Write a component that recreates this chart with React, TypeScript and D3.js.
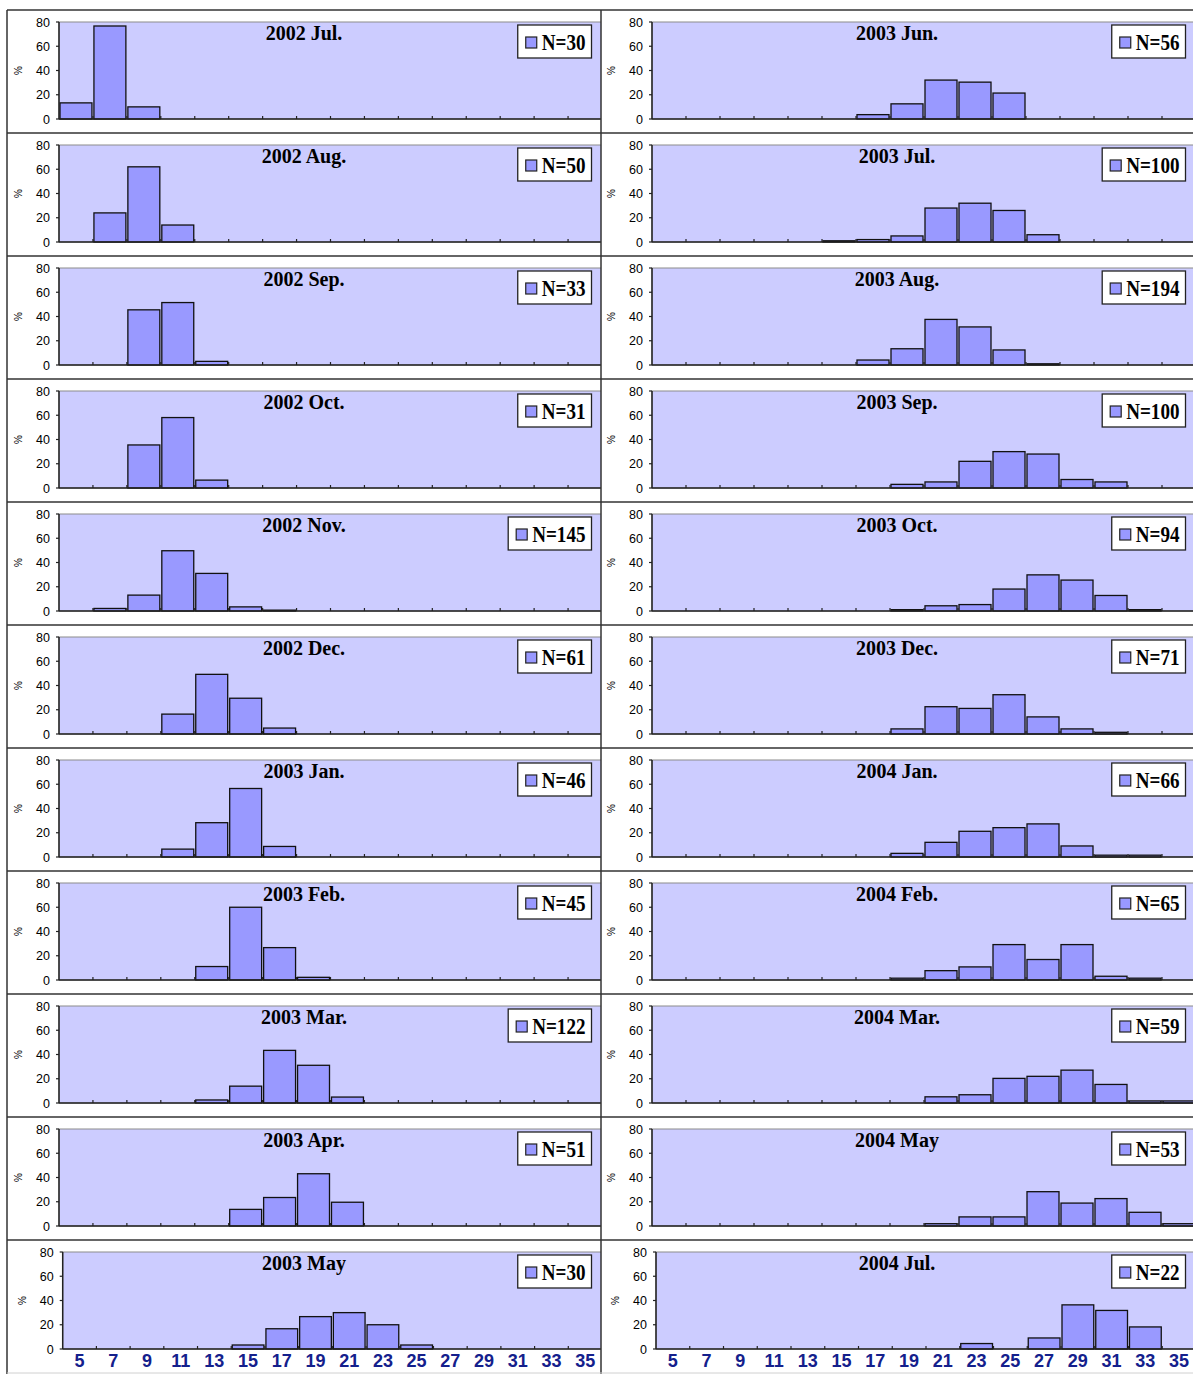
import React, { useEffect, useRef } from 'react';
import * as d3 from 'd3';

const bins = [5, 7, 9, 11, 13, 15, 17, 19, 21, 23, 25, 27, 29, 31, 33, 35];
const yTicks = [0, 20, 40, 60, 80];

const leftTitles = ['2002 Jul.', '2002 Aug.', '2002 Sep.', '2002 Oct.', '2002 Nov.', '2002 Dec.', '2003 Jan.', '2003 Feb.', '2003 Mar.', '2003 Apr.', '2003 May'];
const leftN = [30, 50, 33, 31, 145, 61, 46, 45, 122, 51, 30];
const rightTitles = ['2003 Jun.', '2003 Jul.', '2003 Aug.', '2003 Sep.', '2003 Oct.', '2003 Dec.', '2004 Jan.', '2004 Feb.', '2004 Mar.', '2004 May', '2004 Jul.'];
const rightN = [56, 100, 194, 100, 94, 71, 66, 65, 59, 53, 22];

// percentage per size class (bins 5..35)
const jul2002 = [13.3, 76.7, 10, 0, 0, 0, 0, 0, 0, 0, 0, 0, 0, 0, 0, 0];
const aug2002 = [0, 24, 62, 14, 0, 0, 0, 0, 0, 0, 0, 0, 0, 0, 0, 0];
const sep2002 = [0, 0, 45.5, 51.5, 3, 0, 0, 0, 0, 0, 0, 0, 0, 0, 0, 0];
const oct2002 = [0, 0, 35.5, 58.1, 6.5, 0, 0, 0, 0, 0, 0, 0, 0, 0, 0, 0];
const nov2002 = [0, 2.1, 13.1, 49.7, 31.0, 3.4, 0.7, 0, 0, 0, 0, 0, 0, 0, 0, 0];
const dec2002 = [0, 0, 0, 16.4, 49.2, 29.5, 4.9, 0, 0, 0, 0, 0, 0, 0, 0, 0];
const jan2003 = [0, 0, 0, 6.5, 28.3, 56.5, 8.7, 0, 0, 0, 0, 0, 0, 0, 0, 0];
const feb2003 = [0, 0, 0, 0, 11.1, 60, 26.7, 2.2, 0, 0, 0, 0, 0, 0, 0, 0];
const mar2003 = [0, 0, 0, 0, 2.5, 13.9, 43.4, 31.1, 4.9, 0, 0, 0, 0, 0, 0, 0];
const apr2003 = [0, 0, 0, 0, 0, 13.7, 23.5, 43.1, 19.6, 0, 0, 0, 0, 0, 0, 0];
const may2003 = [0, 0, 0, 0, 0, 3.3, 16.7, 26.7, 30, 20, 3.3, 0, 0, 0, 0, 0];

const jun2003 = [0, 0, 0, 0, 0, 0, 3.6, 12.5, 32.1, 30.4, 21.4, 0, 0, 0, 0, 0];
const jul2003 = [0, 0, 0, 0, 0, 1, 2, 5, 28, 32, 26, 6, 0, 0, 0, 0];
const aug2003 = [0, 0, 0, 0, 0, 0, 4.1, 13.4, 37.6, 31.4, 12.4, 1, 0, 0, 0, 0];
const sep2003 = [0, 0, 0, 0, 0, 0, 0, 3, 5, 22, 30, 28, 7, 5, 0, 0];
const oct2003 = [0, 0, 0, 0, 0, 0, 0, 1.1, 4.3, 5.3, 18.1, 29.8, 25.5, 12.8, 1.1, 0];
const dec2003 = [0, 0, 0, 0, 0, 0, 0, 4.2, 22.5, 21.1, 32.4, 14.1, 4.2, 1.4, 0, 0];
const jan2004 = [0, 0, 0, 0, 0, 0, 0, 3, 12.1, 21.2, 24.2, 27.3, 9.1, 1.5, 1.5, 0];
const feb2004 = [0, 0, 0, 0, 0, 0, 0, 1.5, 7.7, 10.8, 29.2, 16.9, 29.2, 3.1, 1.5, 0];
const mar2004 = [0, 0, 0, 0, 0, 0, 0, 0, 5.1, 6.8, 20.3, 22, 27.1, 15.3, 1.7, 1.7];
const may2004 = [0, 0, 0, 0, 0, 0, 0, 0, 1.9, 7.5, 7.5, 28.3, 18.9, 22.6, 11.3, 1.9];
const jul2004 = [0, 0, 0, 0, 0, 0, 0, 0, 0, 4.5, 0, 9.1, 36.4, 31.8, 18.2, 0];

const leftData = [jul2002, aug2002, sep2002, oct2002, nov2002, dec2002, jan2003, feb2003, mar2003, apr2003, may2003];
const rightData = [jun2003, jul2003, aug2003, sep2003, oct2003, dec2003, jan2004, feb2004, mar2004, may2004, jul2004];

export default function App() {
  const ref = useRef<SVGSVGElement>(null);

  useEffect(() => {
    const svg = d3.select(ref.current);
    svg.selectAll('*').remove();
    const W = 1193;
    const H = 1374;
    const pitch = 123;
    const top0 = 10;
    const nRows = 11;

    svg.append('rect').attr('width', W).attr('height', H).attr('fill', '#fff');

    const cols = [
      { x0: 7, x1: 601, plotLeft: 59, plotLeftLast: 62.7, plotRight: 602, titles: leftTitles, ns: leftN, data: leftData },
      { x0: 601, x1: 1193, plotLeft: 652, plotLeftLast: 656, plotRight: 1196, titles: rightTitles, ns: rightN, data: rightData },
    ];

    const defs = svg.append('defs');

    cols.forEach((col, ci) => {
      col.data.forEach((vals, ri) => {
        const last = ri === nRows - 1;
        const pTop = top0 + pitch * ri;
        const pBottom = last ? H : pTop + pitch;
        const plotTop = pTop + 12;
        const plotBottom = pTop + 109;
        const plotLeft = last ? col.plotLeftLast : col.plotLeft;
        const plotRight = col.plotRight;

        const clipId = `clip-${ci}-${ri}`;
        defs.append('clipPath').attr('id', clipId)
          .append('rect').attr('x', col.x0).attr('y', pTop).attr('width', col.x1 - col.x0).attr('height', pBottom - pTop);

        const g = svg.append('g').attr('clip-path', `url(#${clipId})`);

        const x = d3.scaleBand<number>().domain(bins).range([plotLeft, plotRight]).paddingInner(0).paddingOuter(0);
        const y = d3.scaleLinear().domain([0, 80]).range([plotBottom, plotTop]);
        const bw = x.bandwidth();

        g.append('rect')
          .attr('x', plotLeft).attr('y', plotTop)
          .attr('width', plotRight - plotLeft).attr('height', plotBottom - plotTop)
          .attr('fill', '#CCCCFF').attr('stroke', '#8c8c8c').attr('stroke-width', 1);

        // bars
        g.selectAll('rect.bar')
          .data(bins.map((b, i) => ({ b, v: vals[i] })).filter(d => d.v > 0))
          .enter().append('rect')
          .attr('class', 'bar')
          .attr('x', d => (x(d.b) as number) + 1)
          .attr('width', bw - 2)
          .attr('y', d => y(d.v))
          .attr('height', d => Math.max(0.8, plotBottom - y(d.v)))
          .attr('fill', '#9999FF')
          .attr('stroke', '#111')
          .attr('stroke-width', 1.3);

        // x axis
        g.append('line').attr('x1', plotLeft).attr('x2', plotRight)
          .attr('y1', plotBottom).attr('y2', plotBottom)
          .attr('stroke', '#222').attr('stroke-width', 1.5);
        bins.forEach((b) => {
          const tx = (x(b) as number) + bw;
          g.append('line').attr('x1', tx).attr('x2', tx)
            .attr('y1', plotBottom).attr('y2', plotBottom - 3)
            .attr('stroke', '#222').attr('stroke-width', 1.2);
        });

        // y axis
        g.append('line').attr('x1', plotLeft).attr('x2', plotLeft)
          .attr('y1', plotTop).attr('y2', plotBottom)
          .attr('stroke', '#222').attr('stroke-width', 1.5);
        yTicks.forEach(t => {
          g.append('line').attr('x1', plotLeft - 3).attr('x2', plotLeft)
            .attr('y1', y(t)).attr('y2', y(t))
            .attr('stroke', '#222').attr('stroke-width', 1.2);
          g.append('text')
            .attr('x', plotLeft - 9).attr('y', y(t) + 4.5)
            .attr('text-anchor', 'end')
            .attr('font-family', '"Liberation Sans", Arial, sans-serif')
            .attr('font-size', 12.5)
            .attr('fill', '#000')
            .text(String(t));
        });

        // % label
        const ly = (plotTop + plotBottom) / 2;
        g.append('text')
          .attr('transform', `translate(${plotLeft - 37},${ly}) rotate(-90)`)
          .attr('text-anchor', 'middle')
          .attr('font-family', '"Liberation Sans", Arial, sans-serif')
          .attr('font-size', 10)
          .attr('fill', '#000')
          .text('%');

        // title
        g.append('text')
          .attr('x', (col.x0 + col.x1) / 2).attr('y', pTop + 30)
          .attr('text-anchor', 'middle')
          .attr('font-family', '"Liberation Serif", "Times New Roman", serif')
          .attr('font-weight', 'bold')
          .attr('font-size', 20)
          .attr('fill', '#000')
          .text(col.titles[ri]);

        // legend
        const lg = g.append('g');
        const scaleX = 0.83;
        const txt = lg.append('text')
          .attr('font-family', '"Liberation Serif", "Times New Roman", serif')
          .attr('font-weight', 'bold')
          .attr('font-size', 23)
          .attr('fill', '#000')
          .text(`N=${col.ns[ri]}`);
        const tw = ((txt.node() as SVGTextElement).getComputedTextLength() || 40) * scaleX;
        const boxW = 8 + 11 + 5 + tw + 6;
        const boxR = plotRight - 10.5;
        const boxL = boxR - boxW;
        const boxT = pTop + 15;
        const boxH = 33;
        lg.insert('rect', 'text')
          .attr('x', boxL).attr('y', boxT).attr('width', boxW).attr('height', boxH)
          .attr('fill', '#fff').attr('stroke', '#222').attr('stroke-width', 1.3);
        lg.append('rect')
          .attr('x', boxL + 8).attr('y', boxT + 12).attr('width', 11).attr('height', 11)
          .attr('fill', '#9999FF').attr('stroke', '#222').attr('stroke-width', 1.2);
        txt.attr('transform', `translate(${boxL + 24},${boxT + 25}) scale(${scaleX},1)`);

        // category labels on the last row
        if (last) {
          g.selectAll('text.cat').data(bins).enter().append('text')
            .attr('class', 'cat')
            .attr('x', d => (x(d) as number) + bw / 2)
            .attr('y', plotBottom + 18)
            .attr('text-anchor', 'middle')
            .attr('font-family', '"Liberation Sans", Arial, sans-serif')
            .attr('font-weight', 'bold')
            .attr('font-size', 18)
            .attr('fill', '#14208c')
            .text(d => String(d));
        }
      });
    });

    // frame lines
    const frame = svg.append('g').attr('stroke', '#333').attr('stroke-width', 1.5);
    d3.range(nRows).forEach(i => {
      const yy = top0 + pitch * i;
      frame.append('line').attr('x1', 7).attr('x2', W).attr('y1', yy).attr('y2', yy);
    });
    frame.append('line').attr('x1', 7).attr('x2', 7).attr('y1', top0).attr('y2', H);
    frame.append('line').attr('x1', 601).attr('x2', 601).attr('y1', top0).attr('y2', H);
    svg.append('line').attr('x1', 7).attr('x2', W).attr('y1', H - 1).attr('y2', H - 1)
      .attr('stroke', '#d0d0d0').attr('stroke-width', 1);
  }, []);

  return (
    <div style={{ position: 'absolute', left: 0, top: 0 }}>
      <svg ref={ref} width={1193} height={1374} style={{ display: 'block' }} />
    </div>
  );
}
